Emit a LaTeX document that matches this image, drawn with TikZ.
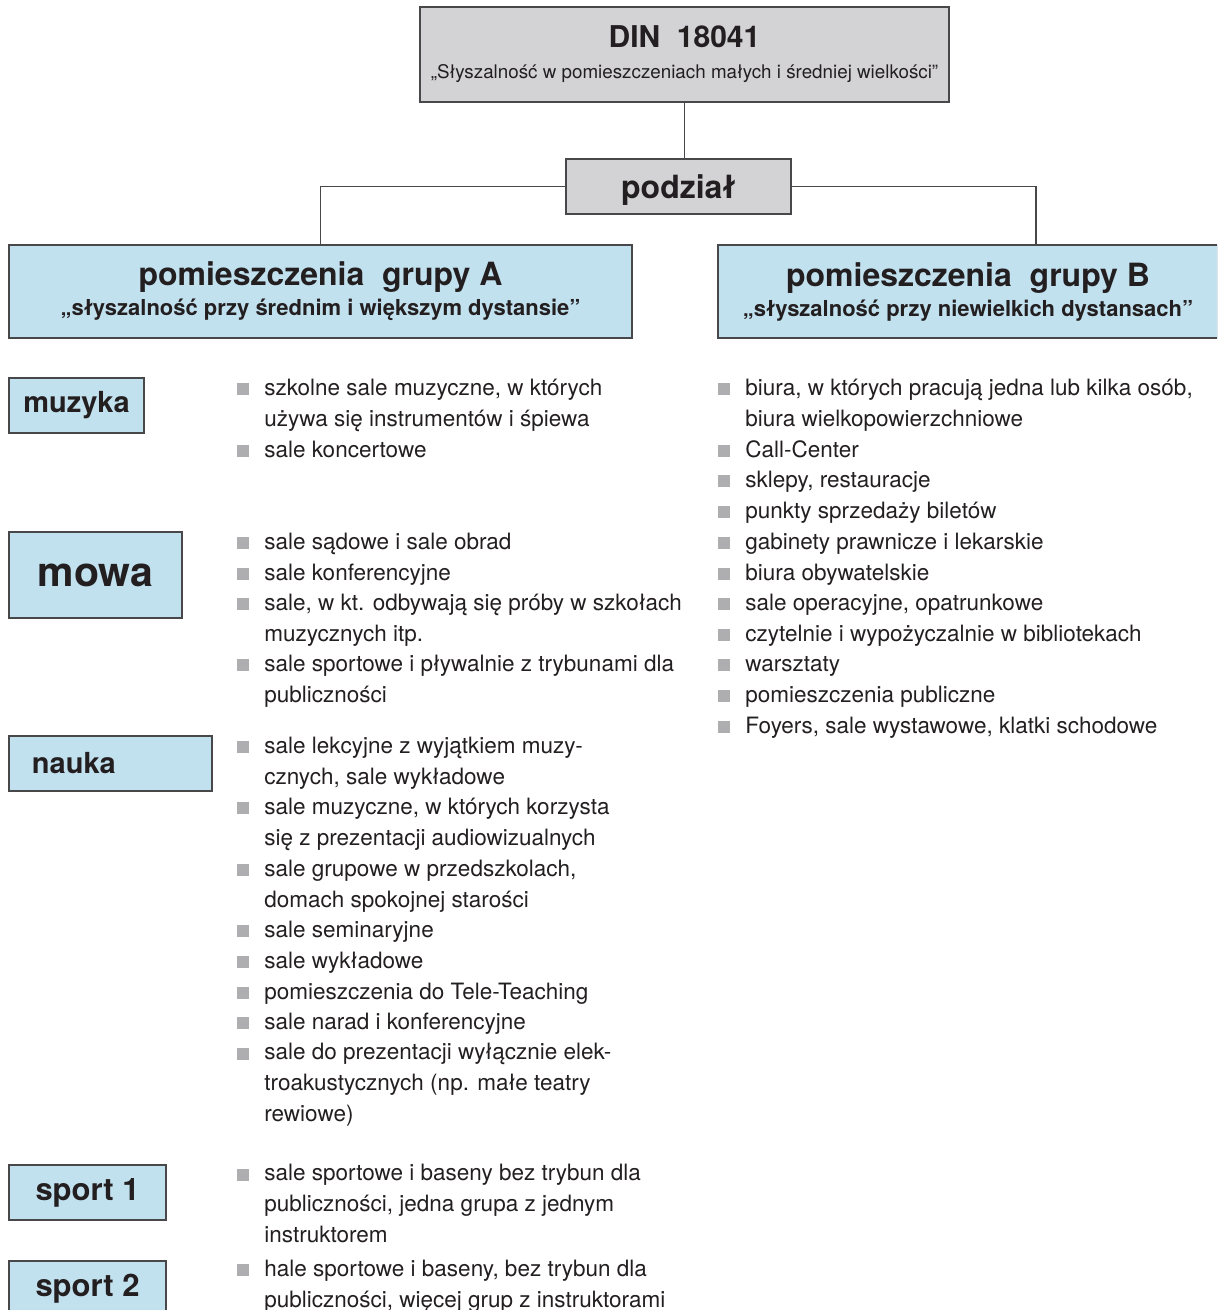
\documentclass[tikz,border=0pt]{standalone}
\usepackage{fontspec}
\setmainfont{TeX Gyre Heros}
\usepackage{xcolor}
\usetikzlibrary{positioning}

\definecolor{boxgray}{HTML}{D3D3D5}
\definecolor{boxblue}{HTML}{C2E1EF}
\definecolor{linegray}{HTML}{48484A}
\definecolor{bulletgray}{HTML}{AEAEB1}
\definecolor{inkblack}{HTML}{231F20}

\newcommand{\sq}{\llap{\textcolor{bulletgray}{\rule{6pt}{6pt}}\hspace{7.5pt}}}

\begin{document}
\begin{tikzpicture}[x=0.5pt, y=-0.5pt,
			graybox/.style={rectangle, draw=linegray, fill=boxgray, line width=0.7pt, inner sep=0pt, align=center, text=inkblack},
			bluebox/.style={rectangle, draw=linegray, fill=boxblue, line width=0.7pt, inner sep=0pt, align=center, text=inkblack},
			catbox/.style={bluebox, minimum height=27.5pt, font=\fontsize{14.5}{17}\selectfont\bfseries},
			item/.style={anchor=base west, align=left, inner sep=0pt, text=inkblack, font=\fontsize{11.25}{15.33}\selectfont},
			conn/.style={draw=linegray, line width=0.7pt},
			]
			\useasboundingbox (0,0) rectangle (1217,1310);
			\clip (0,0) rectangle (1217,1310);
			%Nodes
			\node[graybox, minimum width=264.5pt, minimum height=47.5pt, font=\fontsize{9.4}{15.5}\selectfont] (din) at (684.5,54.5)
				{{\fontsize{15}{18}\selectfont\bfseries DIN\ \ 18041}\\ „Słyszalność w pomieszczeniach małych i średniej wielkości”};
			\node[graybox, minimum width=112.5pt, minimum height=27.5pt, text depth=0pt, font=\fontsize{16}{19}\selectfont\bfseries] (podzial) at (678.5,186.5) {podział};
			
			\node[bluebox, minimum width=311.5pt, minimum height=46.5pt, font=\fontsize{11}{15}\selectfont\bfseries] (grpA) at (320.5,291.5)
				{{\fontsize{16}{19}\selectfont pomieszczenia\ \ grupy A}\\ „słyszalność przy średnim i większym dystansie”};
			\node[bluebox, minimum width=250pt, minimum height=46.5pt, font=\fontsize{11}{15}\selectfont\bfseries] (grpB) at (968,291.5)
				{{\fontsize{16}{19}\selectfont pomieszczenia\ \ grupy B}\\ „słyszalność przy niewielkich dystansach”};
			\coordinate (brB) at (1036,245);
			
			\node[catbox, minimum width=67.5pt] (muzyka) at (76.5,405.5) {muzyka};
			\node[catbox, minimum width=86.5pt, minimum height=43pt, font=\fontsize{20.5}{24}\selectfont\bfseries] (mowa) at (95.5,575) {mowa};
			\node[catbox, text width=78.5pt, inner xsep=11.5pt, align=left] (nauka) at (110.5,763.5) {nauka};
			\node[catbox, minimum width=78.5pt, font=\fontsize{15.5}{18}\selectfont\bfseries] (sport1) at (87.5,1192.5) {sport 1};
			\node[catbox, minimum width=78.5pt, font=\fontsize{15.5}{18}\selectfont\bfseries] (sport2) at (87.5,1288.5) {sport 2};
			
			% group A lists (y = baseline of last line)
			\node[item] (muz1) at (264,426) {\sq szkolne sale muzyczne, w których\\używa się instrumentów i śpiewa};
			\node[item] (muz2) at (264,457) {\sq sale koncertowe};
			
			\node[item] (mow1) at (264,549) {\sq sale sądowe i sale obrad};
			\node[item] (mow2) at (264,580) {\sq sale konferencyjne};
			\node[item] (mow3) at (264,641) {\sq sale, w kt. odbywają się próby w szkołach\\muzycznych itp.};
			\node[item] (mow4) at (264,702) {\sq sale sportowe i pływalnie z trybunami dla\\publiczności};
			
			\node[item] (nau1) at (264,784) {\sq sale lekcyjne z wyjątkiem muzy-\\cznych, sale wykładowe};
			\node[item] (nau2) at (264,845) {\sq sale muzyczne, w których korzysta\\się z prezentacji audiowizualnych};
			\node[item] (nau3) at (264,907) {\sq sale grupowe w przedszkolach,\\domach spokojnej starości};
			\node[item] (nau4) at (264,937) {\sq sale seminaryjne};
			\node[item] (nau5) at (264,968) {\sq sale wykładowe};
			\node[item] (nau6) at (264,999) {\sq pomieszczenia do Tele-Teaching};
			\node[item] (nau7) at (264,1029) {\sq sale narad i konferencyjne};
			\node[item] (nau8) at (264,1121) {\sq sale do prezentacji wyłącznie elek-\\troakustycznych (np. małe teatry\\rewiowe)};
			
			\node[item] (spo1) at (264,1242) {\sq sale sportowe i baseny bez trybun dla\\publiczności, jedna grupa z jednym\\instruktorem};
			\node[item] (spo2) at (264,1307) {\sq hale sportowe i baseny, bez trybun dla\\publiczności, więcej grup z instruktorami};
			
			% group B list
			\node[item] (b1) at (745,426) {\sq biura, w których pracują jedna lub kilka osób,\\biura wielkopowierzchniowe};
			\node[item] (b2) at (745,457) {\sq Call-Center};
			\node[item] (b3) at (745,487) {\sq sklepy, restauracje};
			\node[item] (b4) at (745,518) {\sq punkty sprzedaży biletów};
			\node[item] (b5) at (745,549) {\sq gabinety prawnicze i lekarskie};
			\node[item] (b6) at (745,580) {\sq biura obywatelskie};
			\node[item] (b7) at (745,610) {\sq sale operacyjne, opatrunkowe};
			\node[item] (b8) at (745,641) {\sq czytelnie i wypożyczalnie w bibliotekach};
			\node[item] (b9) at (745,671) {\sq warsztaty};
			\node[item] (b10) at (745,702) {\sq pomieszczenia publiczne};
			\node[item] (b11) at (745,733) {\sq Foyers, sale wystawowe, klatki schodowe};
			
			%Lines
			\draw[conn] (din.south) -- (din.south |- podzial.north);
			\draw[conn] (podzial.west) -| (grpA.north);
			\draw[conn] (podzial.east) -| (brB);
		\end{tikzpicture}
\end{document}
